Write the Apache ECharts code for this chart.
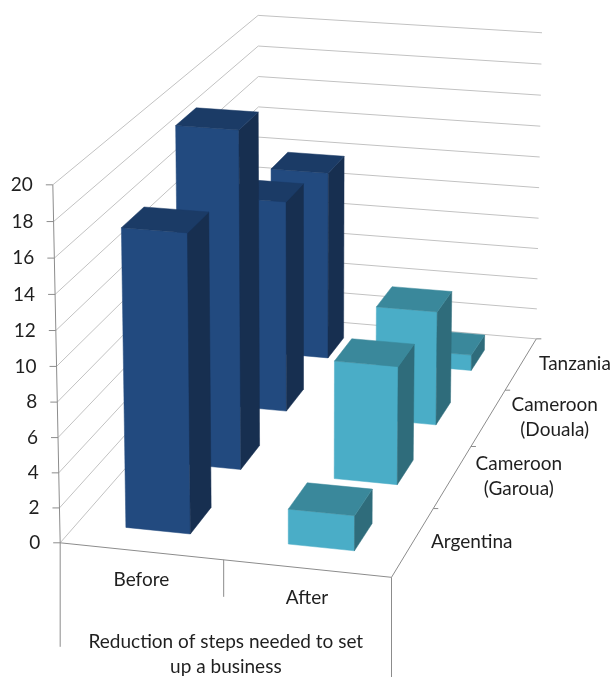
<!DOCTYPE html>
<html lang="en">
<head>
<meta charset="UTF-8" />
<title>Reduction of steps needed to set up a business</title>
<script src="https://cdn.jsdelivr.net/npm/echarts@6/dist/echarts.min.js"></script>
<style>
  html, body { margin: 0; padding: 0; background: #fff; }
  #chart { width: 613px; height: 677px; }
</style>
</head>
<body>
<div id="chart"></div>
<script>
  // chart values
  const periods = ['Before', 'After'];
  const countries = ['Argentina', 'Cameroon\n(Garoua)', 'Cameroon\n(Douala)', 'Tanzania'];
  const stepsBefore = [17, 20, 13, 12];
  const stepsAfter = [2, 7, 7, 1];
  const valueTicks = [0, 2, 4, 6, 8, 10, 12, 14, 16, 18, 20];
  const axisTitle = 'Reduction of steps needed to set\nup a business';

  const yMax = valueTicks[valueTicks.length - 1];
  const FONT = 'Lato, "Open Sans", sans-serif';
  const FONT_SIZE = 19;
  const TEXT = '#1f1f1f';
  const GRID = '#c2c2c2';
  const AXIS = '#8c8c8c';
  const palette = [
    { front: '#224a7f', top: '#1b3b66', side: '#172f50' },
    { front: '#4aadc7', top: '#3a889b', side: '#2f6c7b' }
  ];

  // where the box corners sit on screen: [x, yNorm, z, px, py]
  const anchors = [
    [0, 0, 0, 61, 543],
    [0.5, 0, 0, 222, 560],
    [1, 0, 0, 390, 577],
    [1, 0, 0.25, 435, 508],
    [1, 0, 0.5, 472, 447],
    [1, 0, 0.75, 506, 390],
    [1, 0, 1, 535, 339],
    [0, 1, 0, 53, 185],
    [0, 1, 1, 258, 15],
    [1, 1, 1, 542, 33]
  ];

  // least squares camera matrix (DLT, last entry fixed to 1)
  function fitCamera(pts) {
    const n = 11, S = 100;
    const rows = [], rhs = [];
    pts.forEach(([X, Y, Z, u, v]) => {
      u /= S; v /= S;
      rows.push([X, Y, Z, 1, 0, 0, 0, 0, -u * X, -u * Y, -u * Z]); rhs.push(u);
      rows.push([0, 0, 0, 0, X, Y, Z, 1, -v * X, -v * Y, -v * Z]); rhs.push(v);
    });
    const M = [];
    for (let i = 0; i < n; i++) {
      const r = new Array(n + 1).fill(0);
      rows.forEach((a, k) => {
        for (let j = 0; j < n; j++) r[j] += a[i] * a[j];
        r[n] += a[i] * rhs[k];
      });
      M.push(r);
    }
    for (let c = 0; c < n; c++) {
      let p = c;
      for (let r = c + 1; r < n; r++) if (Math.abs(M[r][c]) > Math.abs(M[p][c])) p = r;
      [M[c], M[p]] = [M[p], M[c]];
      for (let r = 0; r < n; r++) {
        if (r === c) continue;
        const f = M[r][c] / M[c][c];
        for (let j = c; j <= n; j++) M[r][j] -= f * M[c][j];
      }
    }
    const q = M.map((r, i) => r[n] / r[i]);
    return (X, Y, Z) => {
      const w = q[8] * X + q[9] * Y + q[10] * Z + 1;
      return [
        S * (q[0] * X + q[1] * Y + q[2] * Z + q[3]) / w,
        S * (q[4] * X + q[5] * Y + q[6] * Z + q[7]) / w
      ];
    };
  }
  const proj = fitCamera(anchors);

  const measureCtx = document.createElement('canvas').getContext('2d');
  function textWidth(str) {
    measureCtx.font = FONT_SIZE + 'px ' + FONT;
    return Math.max(...str.split('\n').map(s => measureCtx.measureText(s).width));
  }

  function line(a, b, color) {
    return { type: 'line', shape: { x1: a[0], y1: a[1], x2: b[0], y2: b[1] },
             style: { stroke: color, lineWidth: 1 } };
  }
  function label(text, x, y, align) {
    return { type: 'text', style: { text, x, y, fill: TEXT, fontSize: FONT_SIZE, fontFamily: FONT,
             align: align || 'center', verticalAlign: 'middle', lineHeight: 25 } };
  }
  function face(pts, color) {
    return { type: 'polygon', shape: { points: pts.map(p => proj(p[0], p[1], p[2])) },
             style: { fill: color, stroke: color, lineWidth: 0.5 } };
  }

  function renderFrame() {
    const kids = [];
    // walls
    valueTicks.forEach(t => {
      const y = t / yMax;
      kids.push(line(proj(0, y, 0), proj(0, y, 1), GRID));
      kids.push(line(proj(0, y, 1), proj(1, y, 1), GRID));
    });
    // value axis
    const a0 = proj(0, 0, 0), a1 = proj(0, 1, 0);
    kids.push(line(a0, a1, AXIS));
    valueTicks.forEach(t => {
      const p = proj(0, t / yMax, 0);
      kids.push(line([p[0] - 7, p[1]], p, AXIS));
      kids.push(label(String(t), p[0] - 20, p[1], 'right'));
    });
    // floor edges
    const fr = proj(1, 0, 0);
    kids.push(line(a0, fr, AXIS));
    kids.push(line(fr, proj(1, 0, 1), AXIS));
    countries.forEach((c, i) => {
      const t = proj(1, 0, (i + 1) / countries.length);
      kids.push(line(t, [t[0] + 5, t[1]], AXIS));
      const m = proj(1, 0, (i + 0.5) / countries.length);
      const lines = c.split('\n').length;
      const gap = 18 + 5 * (lines - 1);
      kids.push(label(c, m[0] + gap + textWidth(c) / 2, m[1]));
    });
    // category boxes
    kids.push(line(a0, [a0[0], a0[1] + 104], AXIS));
    kids.push(line(fr, [fr[0], fr[1] + 104], AXIS));
    periods.forEach((p, i) => {
      if (i > 0) {
        const d = proj(i / periods.length, 0, 0);
        kids.push(line(d, [d[0], d[1] + 37], AXIS));
      }
      const m = proj((i + 0.5) / periods.length, 0, 0);
      kids.push(label(p, m[0], m[1] + 29));
    });
    kids.push(label(axisTitle, (a0[0] + fr[0]) / 2, 654));
    return { type: 'group', children: kids };
  }

  const gapWidth = 1.5, gapDepth = 1.5;
  function renderBar(params, api) {
    const p = api.value(0), c = api.value(1), v = api.value(2);
    const slot = 1 / periods.length, row = 1 / countries.length;
    const bw = slot / (1 + gapWidth), bd = row / (1 + gapDepth);
    const x0 = p * slot + (slot - bw) / 2, x1 = x0 + bw;
    const z0 = c * row + (row - bd) / 2, z1 = z0 + bd;
    const y = v / yMax;
    const col = palette[p];
    return { type: 'group', children: [
      face([[x0, 0, z0], [x1, 0, z0], [x1, y, z0], [x0, y, z0]], col.front),
      face([[x1, 0, z0], [x1, 0, z1], [x1, y, z1], [x1, y, z0]], col.side),
      face([[x0, y, z0], [x1, y, z0], [x1, y, z1], [x0, y, z1]], col.top)
    ]};
  }

  // back rows first so the front bars cover them
  const barData = [];
  for (let c = countries.length - 1; c >= 0; c--) {
    barData.push([0, c, stepsBefore[c]]);
    barData.push([1, c, stepsAfter[c]]);
  }

  const chart = echarts.init(document.getElementById('chart'));
  chart.setOption({
    animation: false,
    series: [
      { type: 'custom', coordinateSystem: 'none', z: 1, data: [0], renderItem: renderFrame, silent: true },
      { type: 'custom', coordinateSystem: 'none', z: 2, data: barData, renderItem: renderBar }
    ]
  });
</script>
</body>
</html>
